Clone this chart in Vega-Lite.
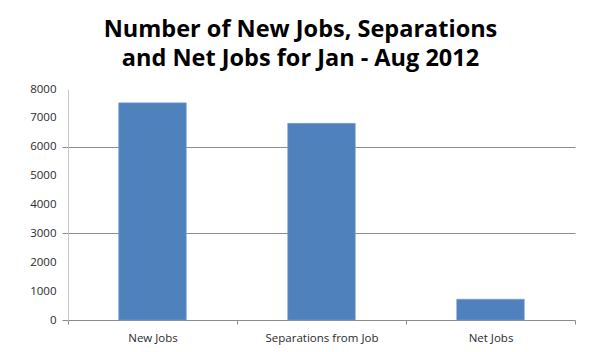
{
  "$schema": "https://vega.github.io/schema/vega-lite/v6.json",
  "autosize": {"type": "none"},
  "width": 507,
  "height": 231,
  "padding": {"left": 68, "top": 89, "right": 27, "bottom": 32},
  "background": "white",
  "title": {
    "text": ["Number of New Jobs, Separations", "and Net Jobs for Jan - Aug 2012"],
    "font": "Open Sans",
    "fontSize": 23.5,
    "fontWeight": "bold",
    "color": "#000000",
    "lineHeight": 29,
    "anchor": "middle",
    "dx": -21,
    "offset": 13
  },
  "data": {
    "values": [
      {"category": "New Jobs", "jobs": 7520},
      {"category": "Separations from Job", "jobs": 6810},
      {"category": "Net Jobs", "jobs": 720}
    ]
  },
  "mark": {"type": "bar", "color": "#4F81BD", "width": {"band": 0.4}, "stroke": "#7FA3D0", "strokeWidth": 0.6},
  "encoding": {
    "x": {
      "field": "category",
      "type": "nominal",
      "sort": null,
      "scale": {"paddingInner": 0, "paddingOuter": 0},
      "axis": {
        "title": null,
        "labelAngle": 0,
        "labelFont": "Open Sans",
        "labelFontSize": 11.5,
        "labelColor": "#2A2A2A",
        "labelPadding": 8,
        "domainColor": "#8C8C8C",
        "tickColor": "#8C8C8C",
        "tickBand": "extent",
        "tickSize": 4,
        "grid": false
      }
    },
    "y": {
      "field": "jobs",
      "type": "quantitative",
      "scale": {"domain": [0, 8000], "nice": false},
      "axis": {
        "title": null,
        "format": "d",
        "values": [0, 1000, 2000, 3000, 4000, 5000, 6000, 7000, 8000],
        "labelFont": "Open Sans",
        "labelFontSize": 11.5,
        "labelColor": "#2A2A2A",
        "labelPadding": 6,
        "domainColor": "#C8C8C8",
        "tickSize": 6,
        "tickColor": "#8C8C8C",
        "tickOpacity": {"condition": {"test": "datum.value % 3000 === 0", "value": 1}, "value": 0},
        "grid": true,
        "gridColor": "#8C8C8C",
        "gridOpacity": {"condition": {"test": "datum.value % 3000 === 0 && datum.value > 0", "value": 1}, "value": 0}
      }
    }
  },
  "config": {"view": {"stroke": null}}
}
